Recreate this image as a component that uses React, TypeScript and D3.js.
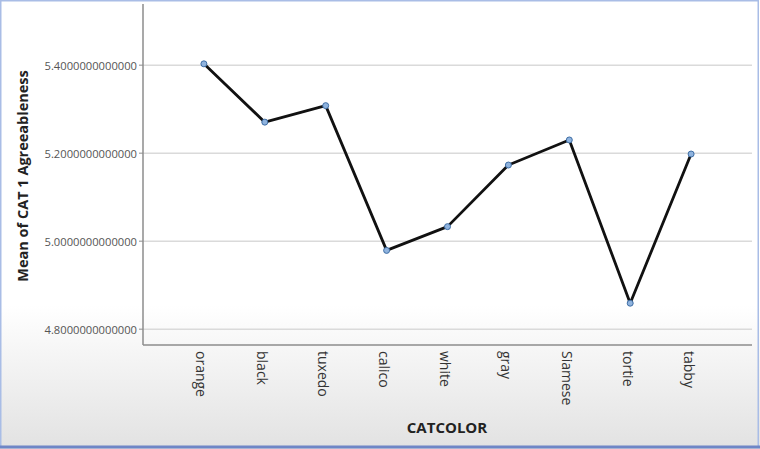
import * as d3 from "d3";

const categories = ["orange", "black", "tuxedo", "calico", "white", "gray", "Siamese", "tortie", "tabby"];
const meanValues = [5.403, 5.2705, 5.308, 4.979, 5.033, 5.173, 5.23, 4.859, 5.198];
const yTicks = [4.8, 5.0, 5.2, 5.4];

const W = 760;
const H = 449;
const margin = { top: 4, right: 8, bottom: 104, left: 143 };

const App = () => {
  const x = d3
    .scalePoint<string>()
    .domain(categories)
    .range([margin.left, W - margin.right])
    .padding(1);
  const y = d3
    .scaleLinear()
    .domain([4.764, 5.539])
    .range([H - margin.bottom, margin.top]);

  const line = d3
    .line<number>()
    .x((_, i) => x(categories[i]) as number)
    .y((d) => y(d));

  const font = "'Open Sans', 'DejaVu Sans', sans-serif";

  return (
    <svg
      width={W}
      height={H}
      style={{ position: "absolute", left: 0, top: 0, display: "block" }}
      fontFamily={font}
    >
      <defs>
        <linearGradient id="bg" x1="0" y1="0" x2="0" y2="1">
          <stop offset="0" stopColor="#ffffff" />
          <stop offset="0.68" stopColor="#ffffff" />
          <stop offset="1" stopColor="#e2e2e2" />
        </linearGradient>
      </defs>
      <rect x={0} y={0} width={W} height={H} fill="url(#bg)" />
      <rect x={0.75} y={0.75} width={W - 2.5} height={H - 2.5} fill="none" stroke="#a9bde6" strokeWidth={1.5} />
      <line x1={0} x2={W} y1={H - 2} y2={H - 2} stroke="#6f86c6" strokeWidth={3} />

      {/* grid */}
      {yTicks.map((t) => (
        <g key={t}>
          <line
            x1={margin.left}
            x2={W - margin.right}
            y1={y(t)}
            y2={y(t)}
            stroke="#dadada"
            strokeWidth={1.5}
          />
          <line x1={margin.left - 4} x2={margin.left} y1={y(t)} y2={y(t)} stroke="#8c8c8c" />
          <text
            x={margin.left - 6}
            y={y(t)}
            textAnchor="end"
            dominantBaseline="central"
            fontSize={11.2}
            fill="#555"
          >
            {t.toFixed(13)}
          </text>
        </g>
      ))}

      {/* axes */}
      <line x1={margin.left} x2={margin.left} y1={margin.top} y2={H - margin.bottom} stroke="#8c8c8c" strokeWidth={1.5} />
      <line x1={margin.left} x2={W - margin.right} y1={H - margin.bottom} y2={H - margin.bottom} stroke="#8c8c8c" strokeWidth={1.5} />

      {categories.map((c) => (
        <text
          key={c}
          transform={`translate(${(x(c) as number) - 2},${H - margin.bottom + 6}) rotate(90)`}
          dominantBaseline="central"
          fontSize={14}
          fill="#333"
        >
          {c}
        </text>
      ))}

      <path d={line(meanValues) ?? ""} fill="none" stroke="#111" strokeWidth={2.8} strokeLinejoin="round" />
      {meanValues.map((v, i) => (
        <circle key={i} cx={x(categories[i])} cy={y(v)} r={3} fill="#8fb3de" stroke="#3f6ea5" strokeWidth={1} />
      ))}

      <text x={447} y={433} textAnchor="middle" fontSize={15} fontWeight="bold" fill="#222">
        CATCOLOR
      </text>
      <text
        transform={`translate(22,176) rotate(-90)`}
        textAnchor="middle"
        dominantBaseline="central"
        fontSize={14.5}
        fontWeight="bold"
        fill="#222"
      >
        Mean of CAT 1 Agreeableness
      </text>
    </svg>
  );
};

export default App;
